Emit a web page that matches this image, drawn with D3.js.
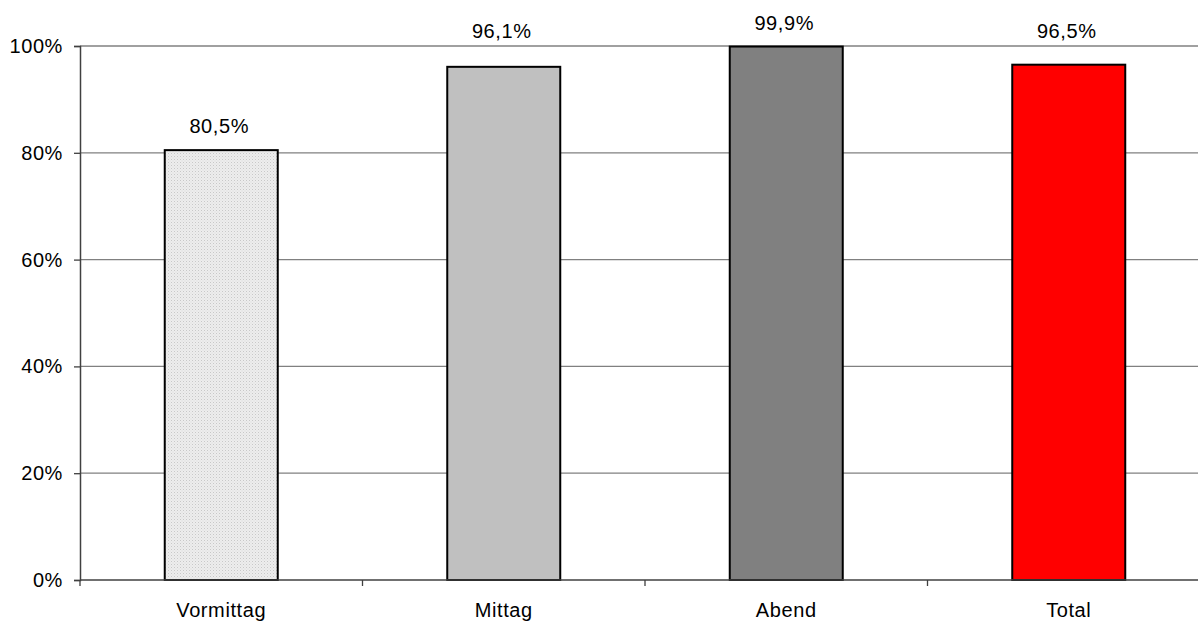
<!DOCTYPE html>
<html>
<head>
<meta charset="utf-8">
<script src="https://cdn.jsdelivr.net/npm/d3@7"></script>
<style>
  html, body { margin: 0; padding: 0; background: #fff; }
  svg { display: block; font-family: "Liberation Sans", Arial, sans-serif; }
  text { letter-spacing: 0.6px; }
</style>
</head>
<body>
<svg id="chart" width="1198" height="621"></svg>
<script>
const categories = ["Vormittag", "Mittag", "Abend", "Total"];
const values = [0.805, 0.961, 0.999, 0.965];
const valueLabels = ["80,5%", "96,1%", "99,9%", "96,5%"];
const yTicks = [0, 0.2, 0.4, 0.6, 0.8, 1.0];
const fills = ["url(#dots)", "#c0c0c0", "#808080", "#ff0000"];

const svg = d3.select("#chart");
const margin = { left: 80, top: 46, bottom: 41 };
const plotW = 282.5 * 4;
const FS = 20;

const defs = svg.append("defs");
const pat = defs.append("pattern").attr("id", "dots")
  .attr("patternUnits", "userSpaceOnUse").attr("width", 3).attr("height", 3);
pat.append("rect").attr("width", 3).attr("height", 3).attr("fill", "#ededed");
pat.append("rect").attr("width", 1).attr("height", 1).attr("fill", "#c8c8c8");
pat.append("rect").attr("x", 1.5).attr("y", 1.5).attr("width", 1).attr("height", 1).attr("fill", "#dadada");

const x = d3.scaleBand().domain(categories)
  .range([margin.left, margin.left + plotW]).paddingInner(0.6).paddingOuter(0.3);
const y = d3.scaleLinear().domain([0, 1]).range([580, 46]);

// gridlines
svg.append("g").selectAll("line").data(yTicks.filter(d => d > 0)).join("line")
  .attr("x1", margin.left).attr("x2", margin.left + plotW)
  .attr("y1", d => y(d)).attr("y2", d => y(d))
  .attr("stroke", "#808080").attr("stroke-width", 1.3);

// y axis
const yAxis = d3.axisLeft(y).tickValues(yTicks)
  .tickFormat(d => Math.round(d * 100) + "%").tickSize(6).tickPadding(11);
const gy = svg.append("g").attr("transform", `translate(${margin.left},0)`).call(yAxis);
gy.select(".domain").attr("stroke", "#404040").attr("stroke-width", 1.5);
gy.selectAll(".tick line").attr("stroke", "#404040").attr("stroke-width", 1.3);
gy.selectAll(".tick text").attr("font-size", FS).attr("fill", "#000")
  .attr("font-family", "'Liberation Sans', Arial, sans-serif");

// bars
svg.append("g").selectAll("rect").data(values).join("rect")
  .attr("x", (d, i) => x(categories[i]))
  .attr("y", d => y(d))
  .attr("width", x.bandwidth())
  .attr("height", d => y(0) - y(d))
  .attr("fill", (d, i) => fills[i])
  .attr("stroke", "#000").attr("stroke-width", 2);

// x axis
const xBoundaries = d3.range(categories.length + 1).map(i => margin.left + i * x.step());
const gx = svg.append("g");
gx.append("line").attr("x1", margin.left).attr("x2", margin.left + plotW)
  .attr("y1", y(0)).attr("y2", y(0)).attr("stroke", "#404040").attr("stroke-width", 1.5);
gx.selectAll("line.tk").data(xBoundaries).join("line").attr("class", "tk")
  .attr("x1", d => d).attr("x2", d => d).attr("y1", y(0)).attr("y2", y(0) + 6)
  .attr("stroke", "#404040").attr("stroke-width", 1.3);
gx.selectAll("text").data(categories).join("text")
  .attr("x", d => x(d) + x.bandwidth() / 2).attr("y", 617)
  .attr("text-anchor", "middle").attr("font-size", FS).attr("fill", "#000")
  .text(d => d);

// value labels
const plotTop = y(1);
svg.append("g").selectAll("text").data(values).join("text")
  .attr("x", (d, i) => x(categories[i]) + x.bandwidth() / 2 - 2)
  .attr("y", d => {
    let ly = y(d) - 17;
    if (ly > plotTop - 9 && ly < plotTop + 20) ly = plotTop - 8.5;
    return ly;
  })
  .attr("text-anchor", "middle").attr("font-size", FS).attr("fill", "#000")
  .text((d, i) => valueLabels[i]);
</script>
</body>
</html>
